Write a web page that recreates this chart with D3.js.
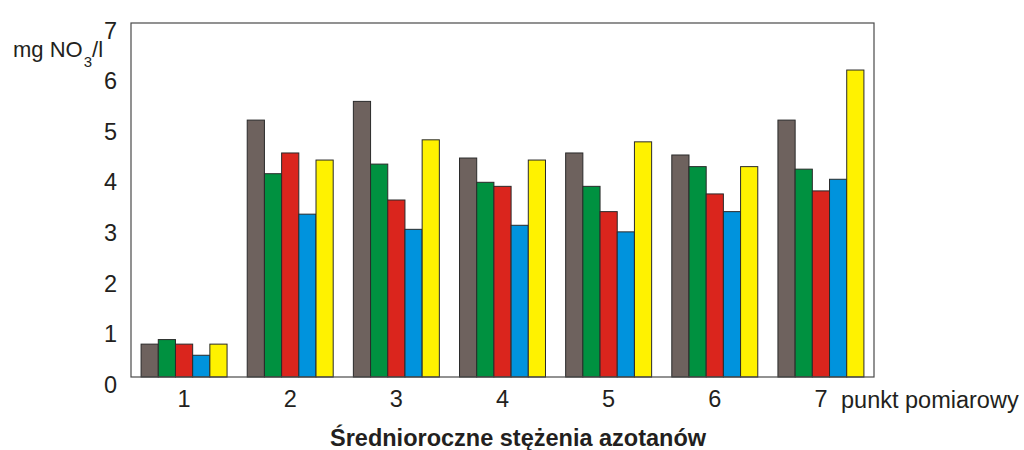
<!DOCTYPE html>
<html><head><meta charset="utf-8">
<script src="https://cdn.jsdelivr.net/npm/d3@7"></script>
<style>body{margin:0;background:#fff}svg{display:block}text{font-family:"Liberation Sans",Arial,sans-serif;fill:#231f20}</style>
</head><body>
<svg id="c" width="1024" height="450"></svg>
<script>
const categories = ["1","2","3","4","5","6","7"];
const seriesNames = ["s1","s2","s3","s4","s5"];
const seriesColors = ["#6e625e","#009140","#da251d","#0093dd","#fff200"];
const s1 = [0.65,5.08,5.45,4.33,4.43,4.39,5.08];
const s2 = [0.74,4.02,4.21,3.85,3.77,4.16,4.11];
const s3 = [0.65,4.43,3.50,3.77,3.27,3.62,3.68];
const s4 = [0.43,3.22,2.92,3.00,2.87,3.27,3.91];
const s5 = [0.65,4.29,4.69,4.29,4.65,4.16,6.07];
const yTicks = [0,1,2,3,4,5,6,7];
const series = [s1,s2,s3,s4,s5];

const svg = d3.select("#c");
const L=131,R=874,T=23,B=377;
const x = d3.scaleBand().domain(categories).range([L,R]).paddingInner(0.19).paddingOuter(0.095);
const xs = d3.scaleBand().domain(seriesNames).range([0,x.bandwidth()]);
const y = d3.scaleLinear().domain([0,7]).range([B,T]);

const g = svg.append("g");
categories.forEach((c,i)=>{
  series.forEach((s,j)=>{
    g.append("rect").attr("x",x(c)+xs(seriesNames[j])).attr("y",y(s[i]))
     .attr("width",xs.bandwidth()).attr("height",B-y(s[i]))
     .attr("fill",seriesColors[j]).attr("stroke","#2a2a2a").attr("stroke-width",1);
  });
});
svg.append("rect").attr("x",L).attr("y",T).attr("width",R-L).attr("height",B-T)
  .attr("fill","none").attr("stroke","#4a4a4a").attr("stroke-width",1.2);

const yAxis = d3.axisLeft(y).tickValues(yTicks).tickFormat(d3.format("d")).tickSize(0).tickPadding(14);
const ya = svg.append("g").attr("transform",`translate(${L},0)`).call(yAxis);
ya.select(".domain").remove();
ya.selectAll("text").style("font-size","23.5px").attr("fill","#231f20").attr("dy","0.65em");

const xAxis = d3.axisBottom(x).tickSize(0).tickPadding(13);
const xa = svg.append("g").attr("transform",`translate(0,${B})`).call(xAxis);
xa.select(".domain").remove();
xa.selectAll("text").style("font-size","23.5px").attr("fill","#231f20");

const lab = svg.append("text").attr("x",13).attr("y",57).style("font-size","22px");
lab.append("tspan").text("mg NO");
lab.append("tspan").attr("dy",10).attr("dx",1).style("font-size","15px").text("3");
lab.append("tspan").attr("dy",-10).attr("dx",0).text("/l");

svg.append("text").attr("x",841).attr("y",408).style("font-size","23.5px").text("punkt pomiarowy");
svg.append("text").attr("x",330).attr("y",446)
  .style("font-size","23.5px").style("font-weight","bold").text("Średnioroczne stężenia azotanów");
</script>
</body></html>
